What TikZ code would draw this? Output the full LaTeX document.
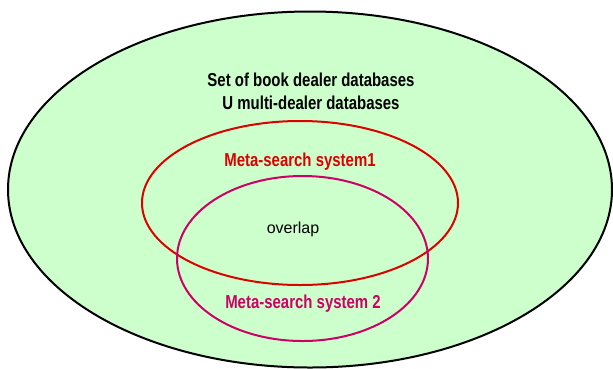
\documentclass[tikz,border=0pt]{standalone}
\usepackage{fontspec}
\setmainfont{Liberation Sans}
\newfontfamily\narrowfont{Liberation Sans}[FakeStretch=0.8]
\usepackage{tikz}
\usetikzlibrary{positioning}

\definecolor{setgreen}{RGB}{204,255,204}
\definecolor{metared}{RGB}{221,0,0}
\definecolor{metapink}{RGB}{204,0,102}

\begin{document}
\begin{tikzpicture}[x=1pt, y=-1pt,
    region/.style={line width=2pt},
    heading/.style={font=\narrowfont\bfseries\fontsize{18.7}{23}\selectfont, align=center, inner sep=0pt},
    plain/.style={font=\fontsize{16}{19}\selectfont, inner sep=0pt}
]
    \useasboundingbox (0, 0) rectangle (613, 368);

    % === Regions ===
    \filldraw[region, fill=setgreen, draw=black] (310, 189.5) ellipse [x radius=302, y radius=178];
    \draw[region, metared] (300, 203) ellipse [x radius=158, y radius=82];
    \draw[region, metapink] (302.5, 258.5) ellipse [x radius=125.5, y radius=82.5];

    % === Labels ===
    \node[heading] (dealers) at (311, 91.5) {Set of book dealer databases\\U multi-dealer databases};
    \node[heading, metared] (system1) at (300, 162) {Meta-search system1};
    \node[plain] (overlap) at (293, 229.5) {overlap};
    \node[heading, metapink] (system2) at (303, 303.5) {Meta-search system 2};
\end{tikzpicture}
\end{document}
